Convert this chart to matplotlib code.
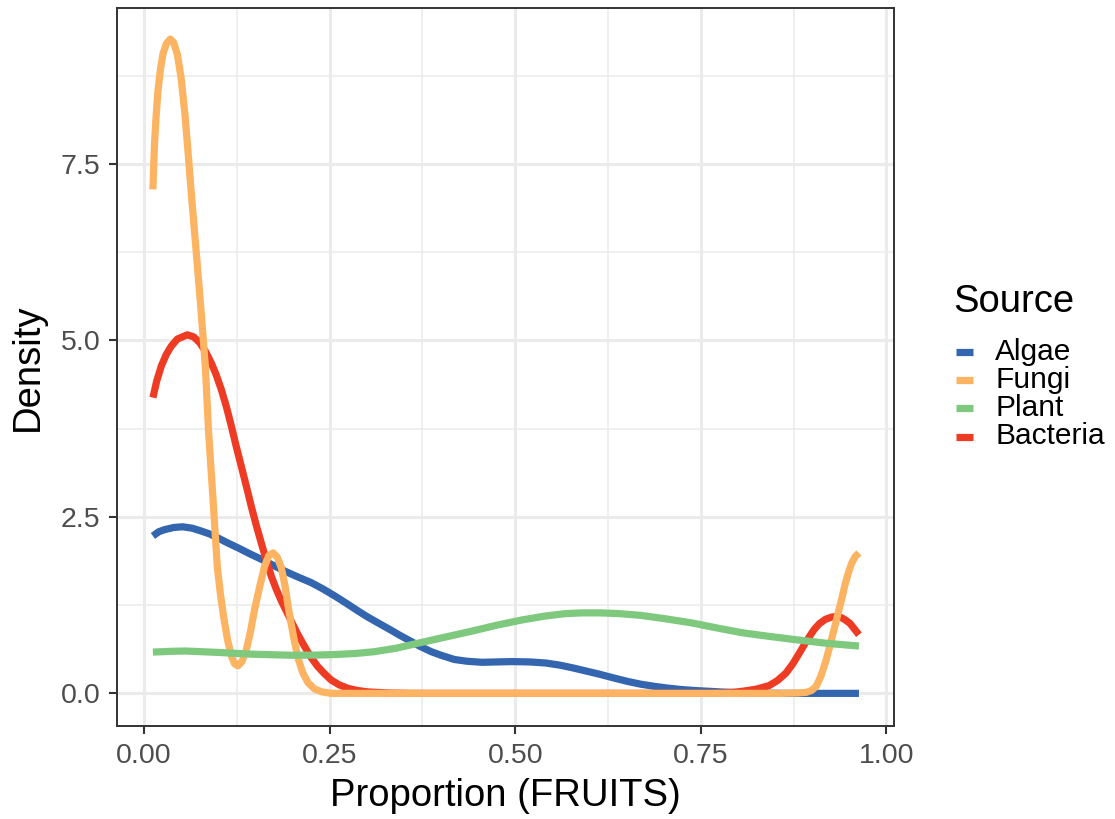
import numpy as np
import matplotlib.pyplot as plt
from matplotlib.lines import Line2D

plt.rcParams['font.family'] = ['Liberation Sans', 'DejaVu Sans']

# density curves per source, read along the proportion axis
algae_x = [0.012, 0.020, 0.028, 0.040, 0.052, 0.065, 0.077, 0.088, 0.100, 0.113,
           0.127, 0.142, 0.158, 0.174, 0.190, 0.207, 0.225, 0.241, 0.257, 0.272,
           0.288, 0.300, 0.315, 0.332, 0.345, 0.359, 0.373, 0.387, 0.400, 0.418,
           0.435, 0.455, 0.475, 0.496, 0.520, 0.541, 0.560, 0.578, 0.596, 0.614,
           0.632, 0.651, 0.669, 0.687, 0.705, 0.723, 0.742, 0.760, 0.780, 0.805,
           0.830, 0.860, 0.963]
algae_y = [2.23, 2.29, 2.32, 2.35, 2.36, 2.34, 2.30, 2.26, 2.20, 2.13,
           2.06, 1.98, 1.90, 1.815, 1.73, 1.65, 1.57, 1.48, 1.38, 1.28,
           1.17, 1.09, 1.00, 0.90, 0.82, 0.74, 0.66, 0.59, 0.54, 0.48,
           0.455, 0.44, 0.445, 0.45, 0.445, 0.43, 0.40, 0.36, 0.315, 0.27,
           0.22, 0.17, 0.13, 0.10, 0.075, 0.055, 0.04, 0.03, 0.018, 0.01,
           0.004, 0.0, 0.0]

fungi_x = [0.012, 0.013, 0.0144, 0.0165, 0.0189, 0.022, 0.0256, 0.030, 0.0354, 0.040,
           0.045, 0.050, 0.055, 0.0595, 0.064, 0.070, 0.0759, 0.0826, 0.0871, 0.093,
           0.0987, 0.103, 0.1078, 0.1125, 0.1176, 0.122, 0.1266, 0.132, 0.138, 0.1435,
           0.149, 0.156, 0.1625, 0.168, 0.1738, 0.1795, 0.185, 0.190, 0.194, 0.1985,
           0.203, 0.208, 0.214, 0.221, 0.230, 0.240, 0.252, 0.40, 0.60, 0.86,
           0.880, 0.892, 0.899, 0.9055, 0.912, 0.919, 0.925, 0.9305, 0.935, 0.9396,
           0.944, 0.9488, 0.953, 0.958, 0.963]
fungi_y = [7.14, 7.45, 7.83, 8.20, 8.54, 8.83, 9.06, 9.20, 9.27, 9.22,
           9.05, 8.72, 8.22, 7.65, 7.05, 6.30, 5.55, 4.64, 3.69, 2.75,
           1.80, 1.40, 1.05, 0.76, 0.53, 0.42, 0.39, 0.45, 0.62, 0.88,
           1.19, 1.52, 1.80, 1.95, 1.99, 1.93, 1.78, 1.52, 1.24, 0.97,
           0.72, 0.48, 0.29, 0.15, 0.06, 0.02, 0.0, 0.0, 0.0, 0.0,
           0.005, 0.015, 0.04, 0.10, 0.25, 0.48, 0.72, 0.95, 1.14, 1.33,
           1.53, 1.71, 1.84, 1.94, 1.99]

plant_x = [0.012, 0.035, 0.055, 0.078, 0.100, 0.145, 0.198, 0.230, 0.257, 0.285,
           0.310, 0.340, 0.373, 0.407, 0.441, 0.475, 0.509, 0.540, 0.568, 0.590,
           0.614, 0.640, 0.669, 0.700, 0.737, 0.770, 0.805, 0.840, 0.874, 0.919,
           0.963]
plant_y = [0.585, 0.595, 0.60, 0.59, 0.58, 0.555, 0.54, 0.542, 0.55, 0.565,
           0.59, 0.64, 0.72, 0.80, 0.88, 0.965, 1.04, 1.095, 1.13, 1.14,
           1.14, 1.13, 1.105, 1.06, 1.00, 0.93, 0.86, 0.81, 0.765, 0.71,
           0.67]

bacteria_x = [0.0121, 0.017, 0.0234, 0.030, 0.0368, 0.045, 0.0584, 0.067, 0.075, 0.083,
              0.0907, 0.097, 0.104, 0.111, 0.1176, 0.124, 0.131, 0.138, 0.1445, 0.151,
              0.158, 0.165, 0.1715, 0.178, 0.185, 0.192, 0.198, 0.207, 0.2165, 0.225,
              0.234, 0.243, 0.252, 0.263, 0.275, 0.288, 0.302, 0.330, 0.360, 0.550,
              0.760, 0.780, 0.795, 0.810, 0.825, 0.842, 0.853, 0.8645, 0.874, 0.8827,
              0.890, 0.896, 0.903, 0.910, 0.918, 0.926, 0.9328, 0.940, 0.946, 0.951,
              0.957, 0.963]
bacteria_y = [4.19, 4.42, 4.64, 4.80, 4.92, 5.02, 5.08, 5.05, 4.97, 4.84,
              4.68, 4.52, 4.31, 4.06, 3.79, 3.51, 3.22, 2.93, 2.65, 2.39,
              2.13, 1.88, 1.66, 1.48, 1.31, 1.16, 1.03, 0.84, 0.66, 0.51,
              0.38, 0.28, 0.19, 0.12, 0.07, 0.04, 0.02, 0.005, 0.0, 0.0,
              0.0, 0.005, 0.015, 0.035, 0.06, 0.11, 0.18, 0.285, 0.42, 0.57,
              0.70, 0.80, 0.91, 0.99, 1.05, 1.08, 1.09, 1.07, 1.03, 0.99,
              0.91, 0.83]

sources = ['Algae', 'Fungi', 'Plant', 'Bacteria']
colors = ['#3366AE', '#FDB462', '#7FC97F', '#EE3B24']
curves = {'Algae': (algae_x, algae_y), 'Fungi': (fungi_x, fungi_y),
          'Plant': (plant_x, plant_y), 'Bacteria': (bacteria_x, bacteria_y)}
# stacking order of the lines (bottom first)
draw_order = ['Algae', 'Bacteria', 'Fungi', 'Plant']

W, H = 1115, 819
fig = plt.figure(figsize=(W / 100, H / 100), dpi=100)
ax = fig.add_axes([117.4 / W, 1 - 726 / H, (894 - 117.4) / W, (726 - 8) / H])

for z, name in enumerate(draw_order):
    x, y = curves[name]
    ax.plot(x, y, color=colors[sources.index(name)], lw=5.2,
            solid_capstyle='butt', solid_joinstyle='round', zorder=3 + z)

ax.set_xlim(-0.0358, 1.0102)
ax.set_ylim(-0.4625, 9.71)
ax.set_xticks([0, 0.25, 0.5, 0.75, 1.0])
ax.set_xticklabels(['0.00', '0.25', '0.50', '0.75', '1.00'])
ax.set_yticks([0, 2.5, 5.0, 7.5])
ax.set_yticklabels(['0.0', '2.5', '5.0', '7.5'])
ax.set_xticks([0.125, 0.375, 0.625, 0.875], minor=True)
ax.set_yticks([1.25, 3.75, 6.25, 8.75], minor=True)

ax.grid(which='major', color='#EBEBEB', lw=2.2, zorder=0)
ax.grid(which='minor', color='#EBEBEB', lw=1.1, zorder=0)
ax.set_axisbelow(True)
ax.tick_params(which='minor', length=0)
ax.tick_params(which='major', length=6, width=1.5, color='#333333',
               labelsize=20.5, labelcolor='#4D4D4D', pad=6)
for s in ax.spines.values():
    s.set_color('#333333')
    s.set_linewidth(1.4)

ax.set_xlabel('Proportion (FRUITS)', fontsize=27.5, labelpad=7)
ax.set_ylabel('Density', fontsize=27.5, labelpad=11)

# legend drawn as keys and labels in figure pixels
fig.text(953 / W, 1 - 302 / H, 'Source', fontsize=27.5, va='center', ha='left')
key_y = [352, 380, 408, 436.5]
for name, c, ky in zip(sources, colors, key_y):
    fig.add_artist(Line2D([956 / W, 973 / W], [1 - ky / H, 1 - ky / H],
                          color=c, lw=5.2, solid_capstyle='butt',
                          transform=fig.transFigure))
    fig.text(995 / W, 1 - ky / H, name, fontsize=21.5, va='center', ha='left')

fig.savefig('out.png', dpi=100, facecolor='white')
